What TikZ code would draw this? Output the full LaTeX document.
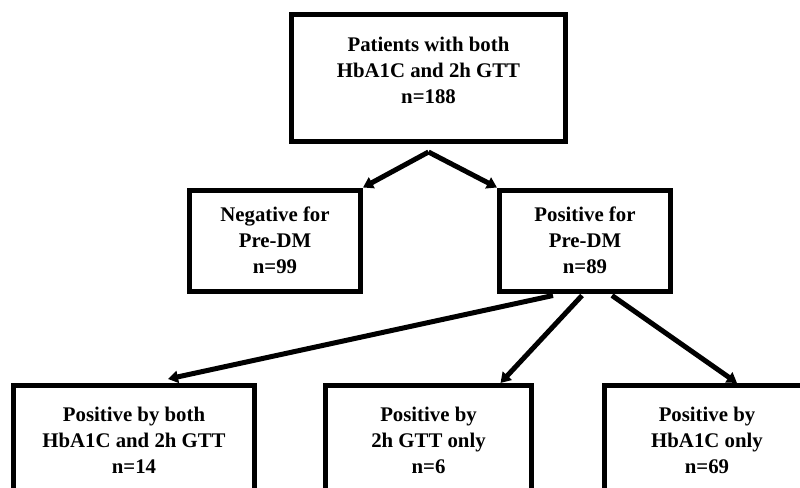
\documentclass[tikz,border=0pt]{standalone}
\usepackage{fontspec}
\setmainfont{Liberation Serif}
\usetikzlibrary{positioning,arrows.meta}

\begin{document}
\begin{tikzpicture}[x=1pt,y=1pt,line width=5pt,on grid,
                box/.style={draw,rectangle,align=center,font=\fontsize{20.8}{26}\selectfont\bfseries,minimum height=101pt},
                flow/.style={-{Triangle[length=10pt,width=12pt]}}]
                \useasboundingbox (0,0) rectangle (800,-487);
                \node[box,minimum width=274pt,minimum height=126pt,text depth=16pt](top) at (428.5,-78) {Patients with both\\HbA1C and 2h GTT\\n=188};
                \coordinate[below=74pt of top] (split);
                \node[box,minimum width=171pt](neg) [below left=162.5pt and 153.5pt of top]{Negative for\\Pre-DM\\n=99};
                \node[box,minimum width=171pt](pos) [below right=162.5pt and 156.5pt of top]{Positive for\\Pre-DM\\n=89};
                \node[box,minimum width=206pt,minimum height=109pt](both) [below=362pt of top]{Positive by\\2h GTT only\\n=6};
                \node[box,minimum width=241pt,minimum height=109pt](all) [left=294.5pt of both]{Positive by both\\HbA1C and 2h GTT\\n=14};
                \node[box,minimum width=205pt,minimum height=109pt](hba) [right=278.5pt of both]{Positive by\\HbA1C only\\n=69};
                \path[flow]
                (split) edge (neg.north east)
                (split) edge (pos.north west)
                ([xshift=-32pt,yshift=-2pt]pos.south) edge ([xshift=34pt,yshift=4pt]all.north)
                ([xshift=-3pt,yshift=-2pt]pos.south) edge ([xshift=72pt]both.north)
                ([xshift=27pt,yshift=-2pt]pos.south) edge ([xshift=30pt]hba.north);
            \end{tikzpicture}
\end{document}
